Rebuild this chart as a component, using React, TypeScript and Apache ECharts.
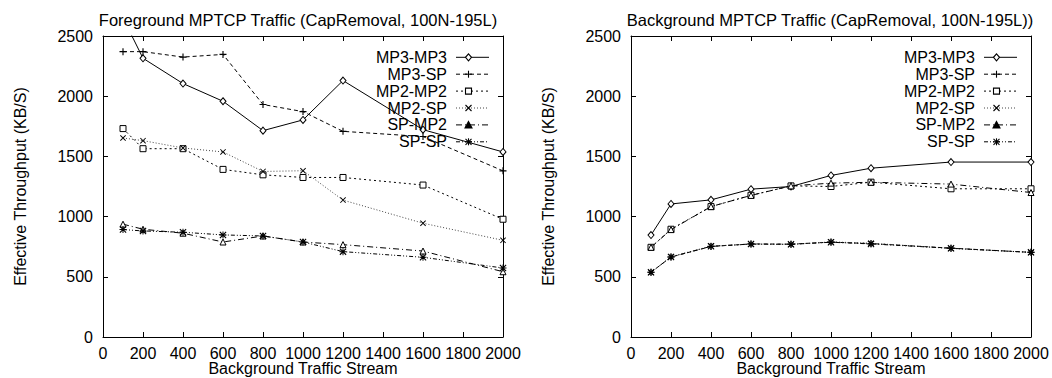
import React, { useEffect, useRef } from 'react';
import * as echarts from 'echarts';

// ---------- data ----------
const xValues = [100, 200, 400, 600, 800, 1000, 1200, 1600, 2000];
const seriesNames = ['MP3-MP3', 'MP3-SP', 'MP2-MP2', 'MP2-SP', 'SP-MP2', 'SP-SP'];

// Foreground panel
const fgMP3MP3 = [2650, 2315, 2105, 1958, 1714, 1803, 2130, 1722, 1537];
const fgMP3SP = [2370, 2370, 2325, 2347, 1931, 1872, 1708, 1665, 1380];
const fgMP2MP2 = [1731, 1564, 1564, 1392, 1347, 1325, 1325, 1262, 978];
const fgMP2SP = [1653, 1631, 1570, 1537, 1375, 1381, 1137, 945, 803];
const fgSPMP2 = [937, 895, 862, 789, 839, 789, 767, 714, 542];
const fgSPSP = [892, 881, 870, 848, 839, 789, 709, 662, 573];

// Background panel
const bgMP3MP3 = [847, 1105, 1139, 1228, 1250, 1342, 1402, 1453, 1453];
const bgMP3SP = [538, 664, 752, 773, 771, 788, 776, 738, 703];
const bgMP2MP2 = [745, 895, 1083, 1177, 1255, 1250, 1286, 1231, 1231];
const bgMP2SP = [536, 667, 755, 771, 769, 790, 779, 736, 702];
const bgSPMP2 = [745, 892, 1083, 1176, 1255, 1278, 1285, 1270, 1200];
const bgSPSP = [537, 665, 753, 772, 770, 787, 773, 737, 703];

const panelTitles = [
  'Foreground MPTCP Traffic (CapRemoval, 100N-195L)',
  'Background MPTCP Traffic (CapRemoval, 100N-195L))',
];
const xAxisName = 'Background Traffic Stream';
const yAxisName = 'Effective Throughput (KB/S)';

// ---------- styling ----------
const FONT = "'Liberation Sans', Arial, Helvetica, sans-serif";
const gridLefts = [103, 631];
const gridTop = 36;
const gridW = 400;
const gridH = 301;
const titleCenters = [298, 830];

const PLUS = 'path://M0,4.2H10V5.8H0Z M4.2,0H5.8V10H4.2Z';
const CROSS = 'path://M0,1.1L1.1,0L10,8.9L8.9,10Z M8.9,0L10,1.1L1.1,10L0,8.9Z';
const STAR = 'path://M0,4.3H10V5.7H0Z M4.3,0H5.7V10H4.3Z M0,1.1L1.1,0L10,8.9L8.9,10Z M8.9,0L10,1.1L1.1,10L0,8.9Z';

const seriesStyles: any[] = [
  { sym: 'diamond', dash: 'solid', color: '#000', symbol: 'diamond', size: [6, 7], item: { color: '#fff', borderColor: '#000', borderWidth: 1 } },
  { sym: 'plus', dash: [4, 3], color: '#000', symbol: PLUS, size: 7, item: { color: '#000', borderWidth: 0 } },
  { sym: 'square', dash: [2, 3], color: '#000', symbol: 'rect', size: 6, item: { color: '#fff', borderColor: '#000', borderWidth: 1 } },
  { sym: 'cross', dash: [1, 2], color: '#444', symbol: CROSS, size: 6, item: { color: '#000', borderWidth: 0 } },
  { sym: 'triangle', dash: [6, 3, 1, 3], color: '#000', symbol: 'triangle', size: 6, item: { color: '#fff', borderColor: '#000', borderWidth: 1 } },
  { sym: 'star', dash: [4, 2, 1, 2, 1, 2], color: '#000', symbol: STAR, size: 7, item: { color: '#000', borderWidth: 0 } },
];

function legendSymbol(sym: string, cx: number, cy: number): any[] {
  const stroke = { stroke: '#000', lineWidth: 1.1 };
  const ln = (x1: number, y1: number, x2: number, y2: number) => ({ type: 'line', shape: { x1, y1, x2, y2 }, style: { ...stroke }, z: 101 });
  switch (sym) {
    case 'diamond':
      return [{ type: 'polygon', shape: { points: [[cx, cy - 3.5], [cx + 3, cy], [cx, cy + 3.5], [cx - 3, cy]] }, style: { fill: '#fff', ...stroke }, z: 101 }];
    case 'plus':
      return [ln(cx - 3.5, cy, cx + 3.5, cy), ln(cx, cy - 3.5, cx, cy + 3.5)];
    case 'square':
      return [{ type: 'rect', shape: { x: cx - 3, y: cy - 3, width: 6, height: 6 }, style: { fill: '#fff', ...stroke }, z: 101 }];
    case 'cross':
      return [ln(cx - 3, cy - 3, cx + 3, cy + 3), ln(cx - 3, cy + 3, cx + 3, cy - 3)];
    case 'triangle':
      return [{ type: 'polygon', shape: { points: [[cx, cy - 3.5], [cx + 3.5, cy + 3], [cx - 3.5, cy + 3]] }, style: { fill: '#000', ...stroke }, z: 101 }];
    default:
      return [
        ln(cx - 3.5, cy, cx + 3.5, cy), ln(cx, cy - 3.5, cx, cy + 3.5),
        ln(cx - 3, cy - 3, cx + 3, cy + 3), ln(cx - 3, cy + 3, cx + 3, cy - 3),
      ];
  }
}

export default function App() {
  const ref = useRef<HTMLDivElement>(null);

  useEffect(() => {
    if (!ref.current) return;
    const chart = echarts.init(ref.current, undefined, { renderer: 'svg' });
    const panels = [
      [fgMP3MP3, fgMP3SP, fgMP2MP2, fgMP2SP, fgSPMP2, fgSPSP],
      [bgMP3MP3, bgMP3SP, bgMP2MP2, bgMP2SP, bgSPMP2, bgSPSP],
    ];

    const axisCommon = {
      axisLine: { show: true, onZero: false, lineStyle: { color: '#000', width: 1 } },
      axisTick: { show: true, inside: true, length: 5, lineStyle: { color: '#000', width: 1 } },
      splitLine: { show: false },
    };
    const labelStyle = { fontSize: 16, color: '#000', fontFamily: FONT };
    const plain = (v: number) => String(v);

    const xAxis: any[] = [];
    const yAxis: any[] = [];
    const grid: any[] = [];
    const graphic: any[] = [];
    gridLefts.forEach((left, p) => {
      grid.push({ left, top: gridTop, width: gridW, height: gridH, show: false, containLabel: false, outerBoundsMode: 'none' });
      xAxis.push({
        type: 'value', gridIndex: p, position: 'bottom', min: 0, max: 2000, interval: 200, ...axisCommon,
        axisLabel: { ...labelStyle, margin: 8, formatter: plain, hideOverlap: false, showMinLabel: true, showMaxLabel: true },
        name: xAxisName, nameLocation: 'middle', nameGap: 23, nameMoveOverlap: false, nameTextStyle: labelStyle,
      });
      xAxis.push({
        type: 'value', gridIndex: p, position: 'top', min: 0, max: 2000, interval: 200, ...axisCommon,
        axisLabel: { show: false },
      });
      yAxis.push({
        type: 'value', gridIndex: p, position: 'left', min: 0, max: 2500, interval: 500, ...axisCommon,
        axisLabel: { ...labelStyle, margin: 10, formatter: plain, showMinLabel: true, showMaxLabel: true },
        name: yAxisName, nameLocation: 'middle', nameGap: 75, nameRotate: 90, nameMoveOverlap: false, nameTextStyle: labelStyle,
      });
      yAxis.push({
        type: 'value', gridIndex: p, position: 'right', min: 0, max: 2500, interval: 500, ...axisCommon,
        axisLabel: { show: false },
      });

      // legend (gnuplot-style key, right-aligned text with sample on the right)
      const plotRight = left + gridW;
      seriesNames.forEach((name, i) => {
        const cy = 57.3 + 16.9 * i;
        const st = seriesStyles[i];
        graphic.push({
          type: 'text', x: plotRight - 56, y: cy, z: 100,
          style: { text: name, fill: '#000', fontSize: 16, fontFamily: FONT, align: 'right', verticalAlign: 'middle' },
        });
        graphic.push({
          type: 'line', z: 100,
          shape: { x1: plotRight - 47, y1: cy, x2: plotRight - 14, y2: cy },
          style: { stroke: st.color, lineWidth: 1, lineDash: st.dash === 'solid' ? null : st.dash },
        });
        legendSymbol(st.sym, plotRight - 34.5, cy).forEach((g) => graphic.push(g));
      });
    });

    const series: any[] = [];
    panels.forEach((panel, p) => {
      panel.forEach((vals, i) => {
        const st = seriesStyles[i];
        series.push({
          type: 'line',
          name: seriesNames[i],
          xAxisIndex: p * 2,
          yAxisIndex: p * 2,
          data: xValues.map((x, j) => [x, vals[j]]),
          symbol: st.symbol,
          symbolSize: st.size,
          showAllSymbol: true,
          clip: true,
          silent: true,
          lineStyle: { color: st.color, width: 1, type: st.dash },
          itemStyle: st.item,
          z: 2 + i,
        });
      });
    });

    chart.setOption({
      animation: false,
      backgroundColor: '#fff',
      textStyle: { fontFamily: FONT },
      title: panelTitles.map((t, p) => ({
        text: t, left: titleCenters[p], top: 11, textAlign: 'center', padding: 0,
        textStyle: { fontSize: 16.5, fontWeight: 'normal', color: '#000', fontFamily: FONT },
      })),
      grid,
      xAxis,
      yAxis,
      series,
      graphic,
    });
    return () => chart.dispose();
  }, []);

  return <div ref={ref} style={{ position: 'absolute', left: 0, top: 0, width: 1052, height: 378 }} />;
}
